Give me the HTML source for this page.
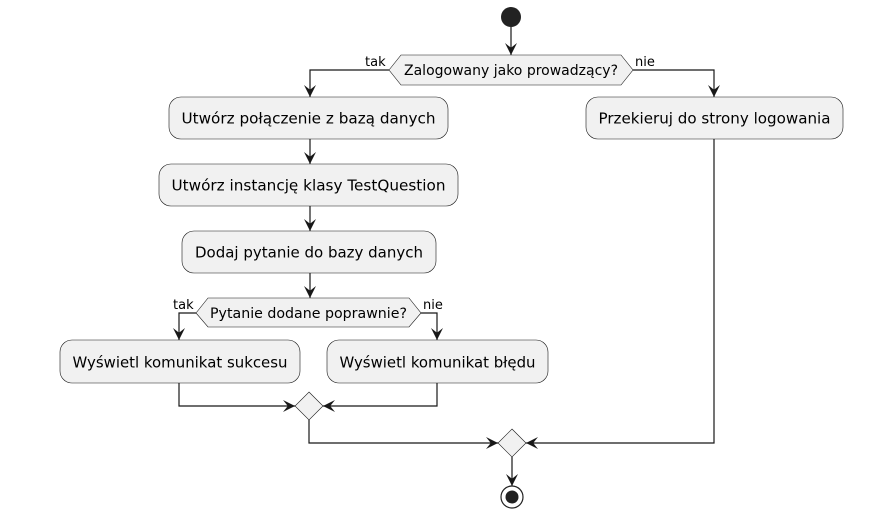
<!DOCTYPE html>
<html><head><meta charset="utf-8"><style>
html,body{margin:0;padding:0;background:#fff;}
svg{display:block;}
text{font-family:"DejaVu Sans","Liberation Sans",sans-serif;fill:#000;}
</style></head><body>
<svg width="892" height="523" viewBox="0 0 892 523" xmlns="http://www.w3.org/2000/svg">
<defs>
<marker id="a" viewBox="0 0 10 10" refX="10" refY="5" markerWidth="12" markerHeight="12" markerUnits="userSpaceOnUse" orient="auto">
<path d="M0,0 L10,5 L0,10 L4,5 Z" fill="#181818"/>
</marker>
</defs>
<g stroke="#181818" stroke-width="1.2" fill="none">
<line x1="511" y1="27" x2="511" y2="55" marker-end="url(#a)"/>
<polyline points="389,70 310,70 310,97" marker-end="url(#a)"/>
<polyline points="633,70 714,70 714,97" marker-end="url(#a)"/>
<line x1="310" y1="139" x2="310" y2="164" marker-end="url(#a)"/>
<line x1="310" y1="206" x2="310" y2="231" marker-end="url(#a)"/>
<line x1="310" y1="273" x2="310" y2="298" marker-end="url(#a)"/>
<polyline points="196,313 179,313 179,340" marker-end="url(#a)"/>
<polyline points="421,313 437,313 437,340" marker-end="url(#a)"/>
<polyline points="179,383 179,406 295,406" marker-end="url(#a)"/>
<polyline points="437,383 437,406 323,406" marker-end="url(#a)"/>
<polyline points="309,420 309,443 498,443" marker-end="url(#a)"/>
<polyline points="714,139 714,443 526,443" marker-end="url(#a)"/>
<line x1="512" y1="457" x2="512" y2="486" marker-end="url(#a)"/>
</g>
<circle cx="511" cy="17" r="10" fill="#222"/>
<g fill="#f1f1f1" stroke="#181818" stroke-width="0.6">
<polygon points="389,70 401,55 621,55 633,70 621,85 401,85"/>
<rect x="169" y="97" width="279" height="42" rx="12"/>
<rect x="586" y="97" width="257" height="42" rx="12"/>
<rect x="159" y="164" width="299" height="42" rx="12"/>
<rect x="182" y="231" width="254" height="42" rx="12"/>
<polygon points="196,313 208,298 409,298 421,313 409,327 208,327"/>
<rect x="60" y="340" width="240" height="43" rx="12"/>
<rect x="327" y="340" width="221" height="43" rx="12"/>
<polygon points="309,392 323,406 309,420 295,406"/>
<polygon points="512,429 526,443 512,457 498,443"/>
</g>
<circle cx="512" cy="497" r="11" fill="#fff" stroke="#222" stroke-width="1.2"/>
<circle cx="512" cy="497" r="6.5" fill="#222"/>
<g>
<text x="511" y="75" text-anchor="middle" font-size="14" textLength="214" lengthAdjust="spacingAndGlyphs">Zalogowany jako prowadzący?</text>
<text x="365" y="66" font-size="13">tak</text>
<text x="635" y="66" font-size="13">nie</text>
<text x="308.5" y="123.5" text-anchor="middle" font-size="15" textLength="254" lengthAdjust="spacingAndGlyphs">Utwórz połączenie z bazą danych</text>
<text x="714.5" y="123.5" text-anchor="middle" font-size="15" textLength="232" lengthAdjust="spacingAndGlyphs">Przekieruj do strony logowania</text>
<text x="308.5" y="190.5" text-anchor="middle" font-size="15" textLength="274" lengthAdjust="spacingAndGlyphs">Utwórz instancję klasy TestQuestion</text>
<text x="309" y="257.5" text-anchor="middle" font-size="15" textLength="228" lengthAdjust="spacingAndGlyphs">Dodaj pytanie do bazy danych</text>
<text x="308.5" y="318" text-anchor="middle" font-size="14" textLength="197" lengthAdjust="spacingAndGlyphs">Pytanie dodane poprawnie?</text>
<text x="173" y="309" font-size="13">tak</text>
<text x="423" y="309" font-size="13">nie</text>
<text x="180" y="367.5" text-anchor="middle" font-size="15" textLength="215" lengthAdjust="spacingAndGlyphs">Wyświetl komunikat sukcesu</text>
<text x="437.5" y="367.5" text-anchor="middle" font-size="15" textLength="196" lengthAdjust="spacingAndGlyphs">Wyświetl komunikat błędu</text>
</g>
</svg>
</body></html>
